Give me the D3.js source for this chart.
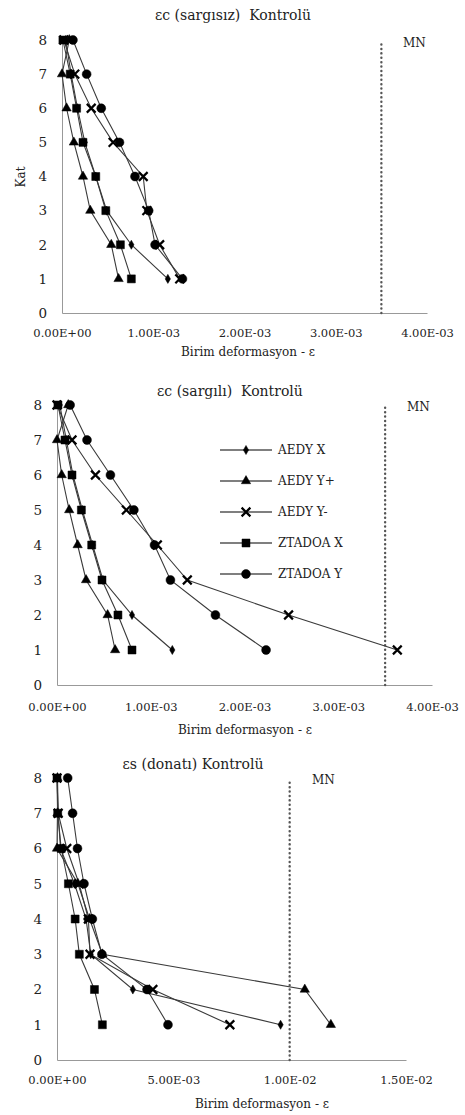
<!DOCTYPE html>
<html>
  <head>
    <style>
      body { margin: 0; background: #fff; }
      text { font-family: 'DejaVu Serif', 'Liberation Serif', serif; fill: #222; white-space: pre; }
      .tick-y { font-size: 13.5px; }
      .tick-x { font-size: 11.5px; }
      .title { font-size: 14px; }
      .axis-title { font-size: 12px; }
      .legend { font-size: 12px; }
      .mn { font-size: 12px; }
    </style>
  </head>
  <body>
    <script src="https://d3js.org/d3.v7.min.js"></script>
    <script>
      // floors (Kat) for every series, top to bottom
      var floors = [8, 7, 6, 5, 4, 3, 2, 1];
      var seriesNames = ["AEDY X", "AEDY Y+", "AEDY Y-", "ZTADOA X", "ZTADOA Y"];
      var yTicks = [0, 1, 2, 3, 4, 5, 6, 7, 8];

      // chart 1: εc (sargısız)
      var c1AedyX    = [0.04e-3, 0.10e-3, 0.17e-3, 0.25e-3, 0.37e-3, 0.49e-3, 0.76e-3, 1.16e-3];
      var c1AedyYp   = [0.08e-3, 0.00e-3, 0.05e-3, 0.13e-3, 0.23e-3, 0.31e-3, 0.54e-3, 0.62e-3];
      var c1AedyYm   = [0.02e-3, 0.14e-3, 0.32e-3, 0.56e-3, 0.89e-3, 0.93e-3, 1.07e-3, 1.29e-3];
      var c1ZtadoaX  = [0.01e-3, 0.09e-3, 0.16e-3, 0.23e-3, 0.37e-3, 0.48e-3, 0.64e-3, 0.76e-3];
      var c1ZtadoaY  = [0.12e-3, 0.27e-3, 0.43e-3, 0.63e-3, 0.80e-3, 0.95e-3, 1.02e-3, 1.32e-3];
      var c1Ticks = [0, 1e-3, 2e-3, 3e-3, 4e-3];
      var c1TickLabels = ["0.00E+00", "1.00E-03", "2.00E-03", "3.00E-03", "4.00E-03"];
      var c1Limit = 3.5e-3;

      // chart 2: εc (sargılı)
      var c2AedyX    = [0.03e-3, 0.10e-3, 0.17e-3, 0.27e-3, 0.38e-3, 0.49e-3, 0.80e-3, 1.23e-3];
      var c2AedyYp   = [0.12e-3, 0.00e-3, 0.05e-3, 0.13e-3, 0.22e-3, 0.31e-3, 0.54e-3, 0.62e-3];
      var c2AedyYm   = [0.00e-3, 0.16e-3, 0.41e-3, 0.74e-3, 1.07e-3, 1.39e-3, 2.47e-3, 3.63e-3];
      var c2ZtadoaX  = [0.01e-3, 0.085e-3, 0.16e-3, 0.26e-3, 0.37e-3, 0.48e-3, 0.65e-3, 0.80e-3];
      var c2ZtadoaY  = [0.14e-3, 0.32e-3, 0.57e-3, 0.82e-3, 1.04e-3, 1.21e-3, 1.69e-3, 2.23e-3];
      var c2Ticks = [0, 1e-3, 2e-3, 3e-3, 4e-3];
      var c2TickLabels = ["0.00E+00", "1.00E-03", "2.00E-03", "3.00E-03", "4.00E-03"];
      var c2Limit = 3.5e-3;

      // chart 3: εs (donatı)
      var c3AedyX    = [0.02e-3, 0.05e-3, 0.15e-3, 0.75e-3, 1.25e-3, 1.45e-3, 3.26e-3, 9.61e-3];
      var c3AedyYp   = [0.02e-3, 0.02e-3, 0.00e-3, 0.90e-3, 1.40e-3, 1.95e-3, 10.65e-3, 11.77e-3];
      var c3AedyYm   = [0.00e-3, 0.05e-3, 0.42e-3, 0.95e-3, 1.35e-3, 1.42e-3, 4.12e-3, 7.43e-3];
      var c3ZtadoaX  = [0.00e-3, 0.03e-3, 0.18e-3, 0.49e-3, 0.78e-3, 0.96e-3, 1.61e-3, 1.95e-3];
      var c3ZtadoaY  = [0.46e-3, 0.67e-3, 0.88e-3, 1.16e-3, 1.52e-3, 1.93e-3, 3.87e-3, 4.77e-3];
      var c3Ticks = [0, 5e-3, 10e-3, 15e-3];
      var c3TickLabels = ["0.00E+00", "5.00E-03", "1.00E-02", "1.50E-02"];
      var c3Limit = 10e-3;

      var width = 465;
      var height = 1115;

      var svg = d3.select("body")
        .append("svg")
        .attr("width", width)
        .attr("height", height);

      // marker for each series, in legend order
      var markers = [
        { type: d3.symbolDiamond, size: 24, fill: true },
        { type: d3.symbolTriangle, size: 38, fill: true },
        { type: d3.symbolX, size: 52, fill: false },
        { type: d3.symbolSquare, size: 64, fill: true },
        { type: d3.symbolCircle, size: 62, fill: true }
      ];

      function drawMarker(g, i, x, y) {
        var m = markers[i];
        g.append("path")
          .attr("d", d3.symbol().type(m.type).size(m.size)())
          .attr("transform", "translate(" + x + "," + y + ")")
          .attr("fill", m.fill ? "#000" : "none")
          .attr("stroke", "#000")
          .attr("stroke-width", m.fill ? 0.5 : 2.2);
      }

      var charts = [
        {
          title: "εc (sargısız)  Kontrolü", series: [c1AedyX, c1AedyYp, c1AedyYm, c1ZtadoaX, c1ZtadoaY],
          ticks: c1Ticks, tickLabels: c1TickLabels, limit: c1Limit,
          left: 62, right: 427, top: 40, bottom: 313,
          titleX: 233, titleY: 20, axisTitleX: 248, axisTitleY: 356, tickLabelY: 334,
          mnX: 403, mnY: 47, yLabelX: 47, kat: true, legend: false
        },
        {
          title: "εc (sargılı)  Kontrolü", series: [c2AedyX, c2AedyYp, c2AedyYm, c2ZtadoaX, c2ZtadoaY],
          ticks: c2Ticks, tickLabels: c2TickLabels, limit: c2Limit,
          left: 57, right: 432, top: 405, bottom: 685,
          titleX: 230, titleY: 396, axisTitleX: 245, axisTitleY: 734, tickLabelY: 708,
          mnX: 407, mnY: 411, yLabelX: 42, kat: false, legend: true
        },
        {
          title: "εs (donatı) Kontrolü", series: [c3AedyX, c3AedyYp, c3AedyYm, c3ZtadoaX, c3ZtadoaY],
          ticks: c3Ticks, tickLabels: c3TickLabels, limit: c3Limit,
          left: 57, right: 406, top: 778, bottom: 1060,
          titleX: 193, titleY: 769, axisTitleX: 262, axisTitleY: 1108, tickLabelY: 1081,
          mnX: 312, mnY: 784, yLabelX: 42, kat: false, legend: false
        }
      ];

      charts.forEach(function(c) {
        var g = svg.append("g");
        var x = d3.scaleLinear()
          .domain([c.ticks[0], c.ticks[c.ticks.length - 1]])
          .range([c.left, c.right]);
        var y = d3.scaleLinear().domain([0, 8]).range([c.bottom, c.top]);

        // axes (no tick marks, just the lines)
        var xAxis = g.append("g")
          .attr("transform", "translate(0," + c.bottom + ")")
          .call(d3.axisBottom(x).tickValues(c.ticks).tickSize(0)
            .tickFormat(function(d, i) { return c.tickLabels[i]; }));
        xAxis.select(".domain").attr("stroke", "#999").attr("stroke-width", 1);
        xAxis.selectAll("text").attr("class", "tick-x").attr("dy", null)
          .attr("y", c.tickLabelY - c.bottom).attr("dominant-baseline", "middle")
          .attr("fill", null);

        var yAxis = g.append("g")
          .attr("transform", "translate(" + c.left + ",0)")
          .call(d3.axisLeft(y).tickValues(yTicks).tickSize(0).tickFormat(d3.format("d")));
        yAxis.select(".domain").attr("stroke", "#999").attr("stroke-width", 1);
        yAxis.selectAll("text").attr("class", "tick-y")
          .attr("x", c.yLabelX - c.left)
          .attr("fill", null);
        xAxis.attr("font-family", null).attr("font-size", null);
        yAxis.attr("font-family", null).attr("font-size", null);

        // MN limit line
        g.append("line")
          .attr("x1", x(c.limit)).attr("x2", x(c.limit))
          .attr("y1", y(0)).attr("y2", y(7.95))
          .attr("stroke", "#555")
          .attr("stroke-width", 2.4)
          .attr("stroke-linecap", "round")
          .attr("stroke-dasharray", "0.1,4.3");
        g.append("text").attr("class", "mn")
          .attr("x", c.mnX).attr("y", c.mnY).text("MN");

        // series
        var line = d3.line()
          .x(function(d) { return x(d[0]); })
          .y(function(d) { return y(d[1]); });

        c.series.forEach(function(values, i) {
          var pts = values.map(function(v, k) { return [v, floors[k]]; });
          g.append("path")
            .datum(pts)
            .attr("d", line)
            .attr("fill", "none")
            .attr("stroke", "#3a3a3a")
            .attr("stroke-width", 1.1);
        });
        c.series.forEach(function(values, i) {
          values.forEach(function(v, k) {
            drawMarker(g, i, x(v), y(floors[k]));
          });
        });

        // titles
        g.append("text").attr("class", "title")
          .attr("x", c.titleX).attr("y", c.titleY)
          .attr("text-anchor", "middle").text(c.title);
        g.append("text").attr("class", "axis-title")
          .attr("x", c.axisTitleX).attr("y", c.axisTitleY)
          .attr("text-anchor", "middle").text("Birim deformasyon - ε");

        if (c.kat) {
          g.append("text").attr("class", "axis-title")
            .attr("transform", "translate(25,177) rotate(-90)")
            .attr("text-anchor", "middle").text("Kat");
        }

        if (c.legend) {
          var legendRows = [450, 481, 512, 543, 574];
          seriesNames.forEach(function(name, i) {
            var ly = legendRows[i];
            g.append("line")
              .attr("x1", 220).attr("x2", 272)
              .attr("y1", ly).attr("y2", ly)
              .attr("stroke", "#000").attr("stroke-width", 1.1);
            drawMarker(g, i, 246, ly);
            g.append("text").attr("class", "legend")
              .attr("x", 278).attr("y", ly)
              .attr("dominant-baseline", "middle")
              .text(name);
          });
        }
      });
    </script>
  </body>
</html>
